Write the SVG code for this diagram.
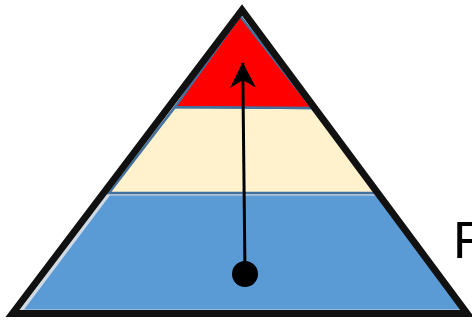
<svg xmlns="http://www.w3.org/2000/svg" width="472" height="321" viewBox="0 0 472 321">
<style>
.lvl{stroke:#41719C;stroke-width:2.5;stroke-linejoin:miter}
.base{stroke:#D0DAE6;stroke-width:3}
.outline{fill:none;stroke:#111;stroke-width:7;stroke-linejoin:miter}
.lbl{font-family:"Liberation Sans",Arial,sans-serif;font-size:52px;fill:#000}
</style>
<defs>
<marker id="ah" viewBox="0 0 26 26" refX="25" refY="13" markerWidth="26" markerHeight="26" markerUnits="userSpaceOnUse" orient="auto">
<path d="M0,0 L26,13 L0,26 L8,13 Z" fill="#000"/>
</marker>
</defs>
<g id="level-bottom"><polygon class="base" points="21,311 109,194 379,194 466,311" fill="#5B9BD5"/></g>
<g id="level-middle"><polygon class="lvl" points="109,193 175,107 312,108 377,193" fill="#FFF2CC"/></g>
<g id="level-top"><polygon class="lvl" points="240,16 175,107 312,108" fill="#FF0000"/></g>
<g id="connectors">
<line x1="245" y1="274" x2="242.7" y2="63" stroke="#000" stroke-width="3" marker-end="url(#ah)"/>
<circle cx="245" cy="274" r="13" fill="#000"/>
</g>
<g id="pyramid-outline"><polygon class="outline" points="242,10 12.5,313.5 467,313.5"/></g>
<text class="lbl" x="453" y="258">F</text>
</svg>
